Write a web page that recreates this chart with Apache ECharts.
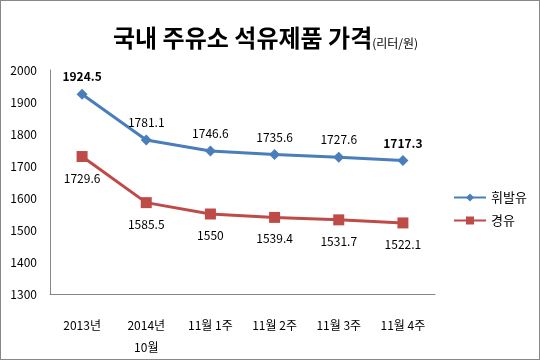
<!DOCTYPE html>
<html><head><meta charset="utf-8">
<style>html,body{margin:0;padding:0;background:#fff}#c{width:540px;height:360px;box-sizing:border-box;border:1px solid #888}</style>
<script src="https://cdn.jsdelivr.net/npm/echarts@6/dist/echarts.min.js"></script>
</head><body><div id="c"></div>
<script>
var categories = ['2013년', '2014년\n10월', '11월 1주', '11월 2주', '11월 3주', '11월 4주'];
var gasoline = [1924.5, 1781.1, 1746.6, 1735.6, 1727.6, 1717.3];
var diesel = [1729.6, 1585.5, 1550, 1539.4, 1531.7, 1522.1];
var yTicks = [1300, 1400, 1500, 1600, 1700, 1800, 1900, 2000];
var seriesNames = ['휘발유', '경유'];

var font = "'Noto Sans CJK KR', 'Noto Sans', sans-serif";
var chart = echarts.init(document.getElementById('c'), null, {renderer: 'canvas'});
function gasLabel(p) {
  var v = gasoline[p.dataIndex];
  return (p.dataIndex === 0 || p.dataIndex === gasoline.length - 1) ? '{b|' + v + '}' : '' + v;
}
chart.setOption({
  animation: false,
  textStyle: {fontFamily: font},
  title: {
    text: '국내 주유소 석유제품 가격{s|(리터/원)}',
    left: 107, top: 20,
    textStyle: {fontSize: 24, fontWeight: 'bold', color: '#000', fontFamily: font,
      rich: {s: {fontSize: 12, fontWeight: 'normal', color: '#000', fontFamily: font, padding: [10, 0, 0, 0]}}}
  },
  legend: {
    orient: 'vertical', left: 447, top: 185, itemGap: 10, itemWidth: 32, itemHeight: 10,
    data: seriesNames,
    textStyle: {fontSize: 13, color: '#000', fontFamily: font}
  },
  grid: {left: 49, right: 104, top: 69, bottom: 65},
  xAxis: {
    type: 'category', data: categories, boundaryGap: true,
    axisLine: {lineStyle: {color: '#868686', width: 1}},
    axisTick: {show: false},
    axisLabel: {color: '#000', fontSize: 12, margin: 20, lineHeight: 22, fontFamily: font, interval: 0}
  },
  yAxis: {
    type: 'value', min: yTicks[0], max: yTicks[yTicks.length - 1], interval: 100,
    axisLine: {show: true, lineStyle: {color: '#868686', width: 1}},
    axisTick: {show: false},
    splitLine: {show: false},
    axisLabel: {color: '#000', fontSize: 12, margin: 13, fontFamily: font, formatter: function (v) { return String(v); }}
  },
  series: [
    {
      name: seriesNames[0], type: 'line', data: gasoline,
      symbol: 'diamond', symbolSize: 11,
      lineStyle: {color: '#4A7EBB', width: 3},
      itemStyle: {color: '#4A7EBB'},
      label: {show: true, position: 'top', distance: 6, color: '#000', fontSize: 12, fontFamily: font,
        formatter: gasLabel, rich: {b: {fontWeight: 'bold', fontSize: 12, color: '#000', fontFamily: font}}}
    },
    {
      name: seriesNames[1], type: 'line', data: diesel,
      symbol: 'rect', symbolSize: 11,
      lineStyle: {color: '#BE4B48', width: 3},
      itemStyle: {color: '#BE4B48'},
      label: {show: true, position: 'bottom', distance: 10, color: '#000', fontSize: 12, fontFamily: font}
    }
  ]
});
</script></body></html>
